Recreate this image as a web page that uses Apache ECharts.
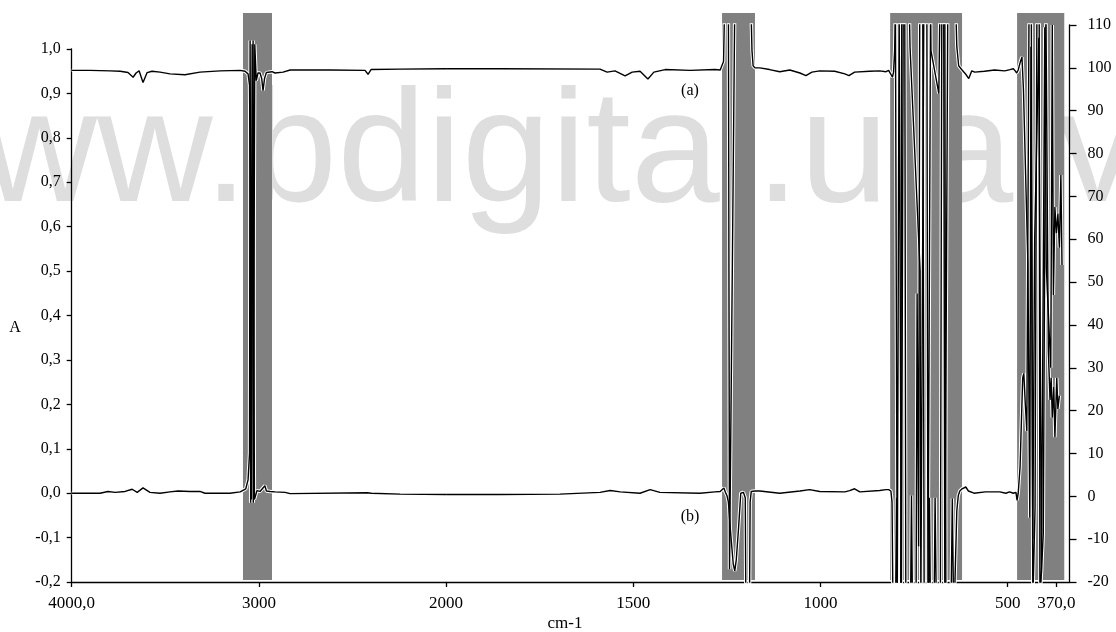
<!DOCTYPE html>
<html><head><meta charset="utf-8">
<script src="https://cdn.jsdelivr.net/npm/echarts@6/dist/echarts.min.js"></script>
<style>html,body{margin:0;padding:0;background:#fff}#c{width:1116px;height:632px}</style>
</head><body><div id="c"></div>
<script>
// Curve (a): transmittance-like trace, right axis
const curveA = [
 [4000,99.4],[3902,99.4],[3795,99.3],[3741,99.2],[3699,98.9],[3672,97.8],[3656,98.8],[3640,99.3],
 [3619,96.6],[3597,98.9],[3571,99.2],[3528,99.0],[3475,98.6],[3395,98.4],[3315,99.0],[3207,99.3],
 [3100,99.4],[3074,99.2],[3058,98.6],[3050,96.0],[3046,70],[3044,-1.5],[3039,-1.5],[3036,105.5],
 [3033,105.5],[3030,-1.5],[3026,-1.5],[3022,105.5],[3019,105.5],[3014,97],[3005,98.8],[2994,98.8],
 [2985,97.5],[2978,94.7],[2970,97.5],[2960,98.9],[2930,99.1],[2914,98.8],[2871,99.0],[2833,99.5],
 [2620,99.5],[2433,99.4],[2417,98.5],[2401,99.6],[2246,99.7],[2000,99.8],[1856,99.8],[1589,99.7],
 [1570,99.0],[1549,99.3],[1522,98.1],[1503,99.0],[1482,99.2],[1461,97.4],[1445,99.0],[1415,99.6],
 [1348,99.4],[1282,99.6],[1268,99.5],[1263,99.6],[1259,101.5],[1256,115],[1246,115],[1243,-17],
 [1229,115],[1186,115],[1183,104],[1180,100.5],[1175,100.0],[1162,100.0],[1136,99.6],[1109,99.1],
 [1082,99.5],[1055,98.8],[1039,98.2],[1023,99.0],[1002,99.3],[962,99.2],[935,98.6],[924,98.2],
 [909,99.0],[869,99.2],[842,99.3],[825,99.1],[818,99.4],[812,98.5],[808,97.8],[805,99],[802,104],
 [800,115],[797,115],[795,-25],[792,-25],[790,115],[786,115],[784,-25],[781,-25],[779,115],[763,115],
 [761,105],[734,52.6],[732,-25],[727,-25],[724,115],[716,115],[713,-25],[708,-25],[706,115],[705,104],
 [684,94],[681,115],[671,115],[668,-25],[663,-25],[660,115],[639,115],[636,105],[631,100.5],[622,99.5],
 [612,98.5],[604,97.5],[596,99.3],[588,99.0],[562,99.2],[535,99.5],[508,99.3],[494,99.6],[489,99.2],
 [485,99.8],[480,99.3],[476,98.8],[472,99.5],[466,101.5],[462,102.5],[458,95],[446,54],[441,-5],
 [438,104.9],[433,-10],[428,60],[417,107],[410,-18],[401,109.5],[397,53.5],[385,30],[381,110],
 [378,47],[374,67.5],[370,61.4],[366,66],[362,58],[358,75],[355,54]
];
// Curve (b): absorbance trace, left axis
const curveB = [
 [4000,0.0],[3849,0.0],[3806,0.004],[3768,0.002],[3715,0.004],[3677,0.009],[3650,0.002],[3619,0.012],
 [3582,0.002],[3528,0.0],[3475,0.003],[3432,0.005],[3368,0.004],[3315,0.004],[3288,0.0],[3155,0.0],
 [3100,0.003],[3090,0.004],[3070,0.01],[3058,0.03],[3050,0.09],[3047,1.02],[3043,1.02],[3040,-0.014],
 [3034,-0.014],[3031,1.02],[3027,1.02],[3024,-0.014],[3018,-0.014],[3010,0.006],[2994,0.004],
 [2985,0.005],[2968,0.017],[2960,0.005],[2940,0.004],[2914,0.003],[2860,0.002],[2833,-0.001],
 [2420,0.001],[2410,0.004],[2400,0.0],[2246,-0.002],[2000,-0.003],[1856,-0.003],[1696,-0.002],
 [1589,0.002],[1562,0.006],[1535,0.003],[1482,0.0],[1455,0.008],[1429,0.002],[1322,0.0],[1282,0.003],
 [1268,0.004],[1263,0.005],[1258,0.012],[1254,0.002],[1250,-0.005],[1246,-0.02],[1240,-0.09],
 [1233,-0.16],[1229,-0.175],[1225,-0.15],[1219,-0.08],[1213,0.0],[1206,0.002],[1201,-0.01],[1199,-0.3],
 [1190,-0.3],[1188,-0.02],[1185,0.004],[1180,0.006],[1175,0.005],[1162,0.005],[1109,0.0],[1055,0.005],
 [1029,0.008],[1002,0.004],[935,0.003],[922,0.006],[909,0.01],[895,0.003],[842,0.006],[825,0.008],
 [818,0.008],[812,0.005],[809,-0.02],[806,-0.3],[800,-0.3],[797,-0.01],[794,-0.3],[786,-0.3],[783,1.1],
 [775,1.1],[772,-0.3],[760,-0.3],[757,-0.005],[754,-0.3],[745,-0.3],[742,0.45],[738,-0.12],[735,1.1],
 [727,1.1],[723,-0.3],[712,-0.3],[709,-0.01],[706,-0.3],[697,-0.3],[694,-0.01],[690,-0.3],[680,-0.3],
 [676,1.1],[668,1.1],[665,-0.3],[652,-0.3],[648,-0.012],[644,-0.3],[640,-0.3],[636,-0.04],[632,-0.005],
 [628,0.005],[622,0.01],[612,0.014],[605,0.005],[590,0.0],[560,0.003],[521,0.003],[505,0.0],[495,0.003],
 [485,0.0],[478,0.002],[475,-0.016],[472,0.0],[467,0.06],[460,0.26],[457,0.27],[453,0.2],[449,0.14],
 [443,1.1],[437,1.1],[433,-0.25],[429,-0.25],[427,-0.032],[422,1.1],[416,1.1],[414,-0.25],[410,-0.25],
 [405,-0.09],[398,1.1],[394,1.1],[391.5,0.32],[387,0.21],[384,0.26],[381,0.17],[377,0.24],[374,0.126],
 [369,0.26],[366,0.19],[362,0.22]
];
const bands = [[3085,2930],[1263,1175],[814,622],[475,349]];
const xTicksLow = [1500,1000,500,370];
const SCALE_BREAK = 2000;

const chart = echarts.init(document.getElementById('c'), null, {renderer:'canvas'});
const FONT = 'Liberation Serif';
const lab = (v) => (v === 4000 ? '4000,0' : v === 370 ? '370,0' : String(v));
const axisStyle = {color:'#000', width:1.3};

function part(data, high){ return data.filter(p => high ? p[0] >= SCALE_BREAK : p[0] <= SCALE_BREAK); }
function line(data, xi, yi, halo){
  return {type:'line', xAxisIndex:xi, yAxisIndex:yi, data:data, symbol:'none', showSymbol:false,
    animation:false, silent:true, clip:true, z: halo ? 3 : 4,
    lineStyle: halo ? {color:'#ffffff', width:3.4} : {color:'#000', width:1.4}};
}
function bandSeries(xi, yi, list){
  return {type:'line', xAxisIndex:xi, yAxisIndex:yi, data:[], silent:true, animation:false, z:1,
    markArea:{silent:true, itemStyle:{color:'#808080', opacity:1},
      data:list.map(b => [{xAxis:b[0]},{xAxis:b[1]}])}};
}
const hiddenX = (g, lo, hi) => ({gridIndex:g, type:'value', min:lo, max:hi, inverse:true, show:false});
const hiddenY = (g, lo, hi) => ({gridIndex:g, type:'value', min:lo, max:hi, show:false});

const option = {
  backgroundColor:'#ffffff',
  animation:false,
  graphic:[
    {type:'text', z:0, silent:true, style:{text:'www.bdigital.ula.ve', x:-134, y:156.6, fill:'#dedede',
      font:'160px "Liberation Sans"', align:'left', verticalAlign:'middle'}},
    {type:'text', z:10, style:{text:'A', x:15, y:328, fill:'#000', font:'16px "Liberation Serif"', align:'center', verticalAlign:'middle'}},
    {type:'text', z:10, style:{text:'cm-1', x:565, y:624, fill:'#000', font:'17px "Liberation Serif"', align:'center', verticalAlign:'middle'}},
    {type:'text', z:10, style:{text:'(a)', x:690, y:91, fill:'#000', font:'16px "Liberation Serif"', align:'center', verticalAlign:'middle'}},
    {type:'text', z:10, style:{text:'(b)', x:690, y:517, fill:'#000', font:'16px "Liberation Serif"', align:'center', verticalAlign:'middle'}}
  ],
  grid:[
    {left:71.7, top:25, width:374.4, height:557},   // data, high wavenumbers
    {left:446.1, top:25, width:623.4, height:557},  // data, low wavenumbers
    {left:71.7, top:49, width:374.4, height:533},   // left A axis display
    {left:71.7, top:13, width:374.4, height:567},   // bands, high
    {left:446.1, top:13, width:623.4, height:567}   // bands, low
  ],
  xAxis:[
    {gridIndex:0, type:'value', min:2000, max:4000, interval:1000, inverse:true,
      axisLine:{onZero:false, lineStyle:axisStyle}, axisTick:{show:true, length:5, lineStyle:axisStyle},
      axisLabel:{formatter:lab, margin:13, fontSize:17, color:'#000', fontFamily:FONT},
      splitLine:{show:false}},
    {gridIndex:1, type:'value', min:335, max:2000, inverse:true,
      axisLine:{onZero:false, lineStyle:axisStyle},
      axisTick:{show:true, length:5, lineStyle:axisStyle, customValues:xTicksLow},
      axisLabel:{formatter:lab, margin:13, fontSize:17, color:'#000', fontFamily:FONT, customValues:xTicksLow},
      splitLine:{show:false}},
    hiddenX(2, 2000, 4000),
    hiddenX(3, 2000, 4000),
    hiddenX(4, 335, 2000)
  ],
  yAxis:[
    hiddenY(0, -0.2, 1.0548),
    {gridIndex:1, type:'value', position:'right', min:-20, max:110, interval:10,
      axisLine:{show:true, onZero:false, lineStyle:axisStyle},
      axisTick:{show:true, length:7, lineStyle:axisStyle},
      axisLabel:{margin:18, fontSize:16, color:'#000', fontFamily:FONT},
      splitLine:{show:false}},
    hiddenY(0, -20, 110),
    hiddenY(1, -0.2, 1.0548),
    {gridIndex:2, type:'value', position:'left', min:-0.2, max:1.0, interval:0.1,
      axisLine:{show:true, onZero:false, lineStyle:axisStyle},
      axisTick:{show:true, length:5, lineStyle:axisStyle},
      axisLabel:{formatter:v => v.toFixed(1).replace('.', ','), margin:11,
        fontSize:16, color:'#000', fontFamily:FONT},
      splitLine:{show:false}},
    hiddenY(3, 0, 1),
    hiddenY(4, 0, 1)
  ],
  series:[
    bandSeries(3, 5, bands.filter(b => b[1] >= SCALE_BREAK)),
    bandSeries(4, 6, bands.filter(b => b[0] <= SCALE_BREAK)),
    line(part(curveA,true), 0, 2, true),
    line(part(curveA,false), 1, 1, true),
    line(part(curveB,true), 0, 0, true),
    line(part(curveB,false), 1, 3, true),
    line(part(curveA,true), 0, 2, false),
    line(part(curveA,false), 1, 1, false),
    line(part(curveB,true), 0, 0, false),
    line(part(curveB,false), 1, 3, false)
  ]
};
chart.setOption(option);
</script></body></html>
